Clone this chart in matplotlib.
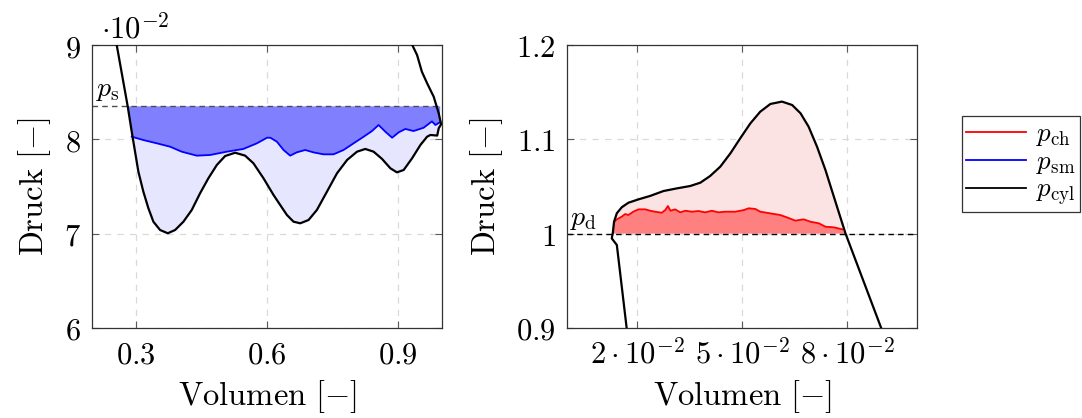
import numpy as np
import matplotlib
matplotlib.use("Agg")
import matplotlib.pyplot as plt
from matplotlib.ticker import FixedLocator, FuncFormatter

plt.rcParams['mathtext.fontset'] = 'cm'
plt.rcParams['font.family'] = 'DejaVu Serif'

# ---------------- data: left panel (suction) ----------------
p_s = 0.0835
cyl_v_left = [0.2540, 0.2565, 0.2816, 0.2908, 0.2984, 0.3060, 0.3174, 0.3289, 0.3403, 0.3556,
              0.3732, 0.3900, 0.4090, 0.4280, 0.4470, 0.4660, 0.4853, 0.5043, 0.5272, 0.5500,
              0.5690, 0.5920, 0.6149, 0.6378, 0.6455, 0.6606, 0.6760, 0.6950, 0.7140, 0.7370,
              0.7600, 0.7830, 0.8057, 0.8247, 0.8437, 0.8630, 0.8820, 0.8970, 0.9124, 0.9316,
              0.9506, 0.9660, 0.9735, 0.9890, 0.9925, 0.9980, 0.9925, 0.9810, 0.9660, 0.9540,
              0.9430, 0.9320, 0.9260]
cyl_p_left = [0.0920, 0.0900, 0.08350, 0.08081, 0.07869, 0.07657, 0.07445, 0.07269, 0.07127, 0.07039,
              0.07004, 0.07039, 0.07127, 0.07251, 0.07428, 0.07587, 0.07728, 0.07823, 0.07858, 0.07827,
              0.07746, 0.07587, 0.07410, 0.07251, 0.07198, 0.07127, 0.07110, 0.07145, 0.07251, 0.07445,
              0.07640, 0.07781, 0.07869, 0.07898, 0.07869, 0.07792, 0.07693, 0.07650, 0.07675, 0.07799,
              0.07940, 0.08028, 0.08046, 0.08040, 0.08117, 0.08160, 0.08276, 0.08452, 0.08594, 0.08717,
              0.08894, 0.0900, 0.0910]
sm_v = [0.2908, 0.317, 0.348, 0.3785, 0.405, 0.4396, 0.470, 0.508, 0.546, 0.577, 0.600, 0.6076,
        0.6226, 0.6378, 0.653, 0.668, 0.6874, 0.706, 0.729, 0.752, 0.775, 0.798, 0.821, 0.840,
        0.855, 0.8705, 0.886, 0.901, 0.9163, 0.935, 0.958, 0.977, 0.985, 0.995]
sm_p = [0.08028, 0.07993, 0.07958, 0.07922, 0.07869, 0.07827, 0.07834, 0.07869, 0.07898, 0.07958, 0.08017, 0.08017,
        0.07975, 0.07887, 0.07827, 0.07862, 0.07887, 0.07862, 0.07841, 0.07841, 0.07887, 0.07958, 0.08028, 0.08088,
        0.08152, 0.08081, 0.08017, 0.08074, 0.08110, 0.08088, 0.08123, 0.08190, 0.08152, 0.08180]
ps_left_x = 0.2816   # intersection of cylinder curve with p_s
ps_right_x = 0.9960

# ---------------- data: right panel (discharge) ----------------
p_d = 1.0
cyl_v_right = [0.0176, 0.0171, 0.0143, 0.01285, 0.01314, 0.01351, 0.01429, 0.01571, 0.0176, 0.0205,
               0.0238, 0.0276, 0.0314, 0.0352, 0.0381, 0.0409, 0.0438, 0.0467, 0.0495, 0.0524,
               0.0552, 0.0581, 0.0614, 0.0643, 0.0667, 0.0690, 0.0714, 0.0738, 0.0762, 0.0795,
               0.0897, 0.0920]
cyl_p_right = [0.880, 0.900, 0.988, 0.995, 1.0004, 1.0127, 1.0216, 1.0280, 1.0328, 1.0364,
               1.0400, 1.0452, 1.0480, 1.0505, 1.0540, 1.0611, 1.0710, 1.0852, 1.1011, 1.1170,
               1.1293, 1.1375, 1.1400, 1.1364, 1.1276, 1.1134, 1.0922, 1.0675, 1.0392, 1.0004,
               0.900, 0.877]
ch_v = [0.0135, 0.01428, 0.0157, 0.01667, 0.0176, 0.0190, 0.0205, 0.0224, 0.0238, 0.0252,
        0.0271, 0.0281, 0.02886, 0.0296, 0.0309, 0.0324, 0.0338, 0.0357, 0.0376, 0.0395,
        0.0414, 0.0433, 0.0452, 0.0481, 0.0505, 0.0519, 0.0538, 0.0552, 0.0581, 0.0609,
        0.0628, 0.0652, 0.0676, 0.0695, 0.0719, 0.0738, 0.0762, 0.0786]
ch_p = [1.0125, 1.0152, 1.018, 1.0208, 1.0198, 1.0233, 1.0258, 1.0258, 1.0243, 1.0233,
        1.0222, 1.025, 1.0293, 1.0243, 1.0258, 1.0226, 1.0243, 1.0233, 1.024, 1.0226,
        1.0243, 1.0226, 1.0233, 1.0233, 1.025, 1.0269, 1.0262, 1.0233, 1.0215, 1.0198,
        1.0173, 1.0138, 1.0152, 1.0127, 1.011, 1.0074, 1.0067, 1.0046]
pd_left_x = 0.0131
pd_right_x = 0.0795

left_xticks = [0.3, 0.6, 0.9]
left_yticks = [0.06, 0.07, 0.08, 0.09]
right_xticks = [0.02, 0.05, 0.08]
right_yticks = [0.9, 1.0, 1.1, 1.2]
legend_labels = [r'$p_{\mathrm{ch}}$', r'$p_{\mathrm{sm}}$', r'$p_{\mathrm{cyl}}$']

# ---------------- figure ----------------
fig = plt.figure(figsize=(10.82, 4.18), dpi=100)
W, H = 1082, 418
axL = fig.add_axes([92 / W, (H - 328) / H, 350 / W, 283 / H])
axR = fig.add_axes([566.7 / W, (H - 328) / H, 350.6 / W, 283 / H])

TICK_FS = 22
LABEL_FS = 23.5

def style(ax):
    ax.grid(True, color='0.85', linestyle=(0, (5, 5)), linewidth=0.9)
    ax.set_axisbelow(True)
    ax.tick_params(direction='in', length=5, width=0.8, color='0.35', top=True, right=True,
                   labelsize=TICK_FS, pad=8)
    for s in ax.spines.values():
        s.set_color('0.2')
        s.set_linewidth(0.9)

# Left panel
cvl = np.array(cyl_v_left); cpl = np.array(cyl_p_left)
smv = np.array(sm_v); smp = np.array(sm_p)
i0 = 3                       # first point of the lower branch (where p_sm starts)
i1 = int(np.argmax(cvl))     # rightmost point
low_v = cvl[i0:i1 + 1]; low_p = cpl[i0:i1 + 1]
dark_x = np.concatenate([[ps_left_x], smv, [ps_right_x]])
dark_y = np.concatenate([[p_s], smp, [p_s]])
axL.fill(dark_x, dark_y, color=(0.5, 0.5, 1.0), lw=0, zorder=1)
light_x = np.concatenate([smv, low_v[::-1]])
light_y = np.concatenate([smp, low_p[::-1]])
axL.fill(light_x, light_y, color=(0.9, 0.9, 1.0), lw=0, zorder=1)
axL.axhline(p_s, color='0.3', linestyle=(0, (4, 3)), linewidth=1.0, zorder=2)
axL.plot(smv, smp, color='blue', lw=1.3, zorder=3)
axL.plot(cvl, cpl, color='black', lw=1.6, zorder=4, solid_joinstyle='round')
axL.set_xlim(0.2, 1.0)
axL.set_ylim(0.06, 0.09)
axL.xaxis.set_major_locator(FixedLocator(left_xticks))
axL.yaxis.set_major_locator(FixedLocator(left_yticks))
axL.xaxis.set_major_formatter(FuncFormatter(lambda v, p: r'$%.1f$' % v))
axL.yaxis.set_major_formatter(FuncFormatter(lambda v, p: r'$%d$' % round(v * 100)))
style(axL)
axL.set_xlabel(r'$\mathrm{Volumen}\ [-]$', fontsize=LABEL_FS, labelpad=6)
axL.set_ylabel(r'$\mathrm{Druck}\ [-]$', fontsize=LABEL_FS, labelpad=8)
axL.text(0.025, 1.025, r'$\cdot 10^{-2}$', transform=axL.transAxes, fontsize=TICK_FS,
         ha='left', va='baseline')
axL.text(0.209, p_s + 0.0003, r'$p_{\mathrm{s}}$', fontsize=20, ha='left', va='bottom')

# Right panel
cvr = np.array(cyl_v_right); cpr = np.array(cyl_p_right)
chv = np.array(ch_v); chp = np.array(ch_p)
above = np.where(cpr >= p_d)[0]
up_v = cvr[above[0]:above[-1] + 1]; up_p = cpr[above[0]:above[-1] + 1]
dark_x = np.concatenate([[pd_left_x], chv, [pd_right_x]])
dark_y = np.concatenate([[p_d], chp, [p_d]])
axR.fill(dark_x, dark_y, color=(1.0, 0.5, 0.5), lw=0, zorder=1)
light_x = np.concatenate([[pd_left_x], chv, up_v[::-1]])
light_y = np.concatenate([[p_d], chp, up_p[::-1]])
axR.fill(light_x, light_y, color=(0.99, 0.89, 0.89), lw=0, zorder=1)
axR.axhline(p_d, color='black', linestyle=(0, (4, 3)), linewidth=1.0, zorder=2)
axR.plot(chv, chp, color='red', lw=1.3, zorder=3)
axR.plot(cvr, cpr, color='black', lw=1.6, zorder=4, solid_joinstyle='round')
axR.set_xlim(0.0, 0.1)
axR.set_ylim(0.9, 1.2)
axR.xaxis.set_major_locator(FixedLocator(right_xticks))
axR.yaxis.set_major_locator(FixedLocator(right_yticks))
axR.xaxis.set_major_formatter(FuncFormatter(lambda v, p: r'$%d\cdot 10^{-2}$' % round(v * 100)))
axR.yaxis.set_major_formatter(FuncFormatter(lambda v, p: r'$%g$' % round(v, 1)))
style(axR)
axR.set_xlabel(r'$\mathrm{Volumen}\ [-]$', fontsize=LABEL_FS, labelpad=6)
axR.set_ylabel(r'$\mathrm{Druck}\ [-]$', fontsize=LABEL_FS, labelpad=8)
axR.text(0.001, p_d + 0.002, r'$p_{\mathrm{d}}$', fontsize=20, ha='left', va='bottom')

# Legend
handles = [plt.Line2D([], [], color=c, lw=1.3) for c in ['red', 'blue', 'black']]
leg = fig.legend(handles, legend_labels, loc='upper left',
                 bbox_to_anchor=(962 / W, 1 - 116 / H), fontsize=19.5, frameon=True,
                 fancybox=False, edgecolor='0.2', framealpha=1, handlelength=2.2,
                 borderpad=0.15, labelspacing=0.0, handletextpad=0.4, borderaxespad=0)
leg.get_frame().set_linewidth(0.9)

fig.savefig('out.png', dpi=100)
